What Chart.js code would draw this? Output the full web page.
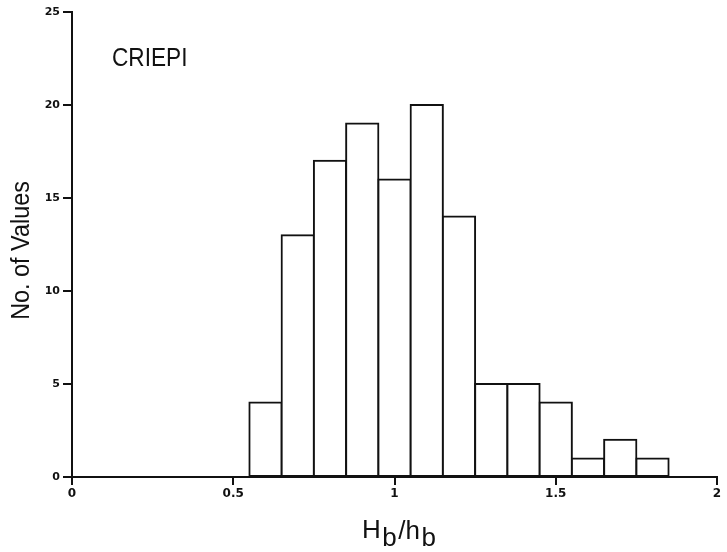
<!DOCTYPE html>
<html>
<head>
<title>CRIEPI Hb/hb histogram</title>
<script src="https://cdn.jsdelivr.net/npm/chart.js"></script>
<style>
  html, body { margin: 0; padding: 0; background: #fff; }
  #wrap { width: 727px; height: 552px; position: relative; }
</style>
</head>
<body>
<div id="wrap"><canvas id="chart"></canvas></div>
<script>
// bin centres (Hb/hb) and number of values in each bin, width 0.1
const binCenters = [0.6, 0.7, 0.8, 0.9, 1.0, 1.1, 1.2, 1.3, 1.4, 1.5, 1.6, 1.7, 1.8];
const counts     = [4, 13, 17, 19, 16, 20, 14, 5, 5, 4, 1, 2, 1];
const xTickLabels = ['0', '0.5', '1', '1.5', '2'];
const yTickLabels = ['0', '5', '10', '15', '20', '25'];

const sans = "'Liberation Sans', Arial, sans-serif";

// draw text squeezed horizontally, to mimic the narrow typeface of the original
function narrowText(ctx, txt, x, y, squeeze) {
  ctx.save();
  ctx.translate(x, y);
  ctx.scale(squeeze, 1);
  ctx.fillText(txt, 0, 0);
  ctx.restore();
  return ctx.measureText(txt).width * squeeze;
}

// titles and the panel label, drawn on the canvas (x title needs subscripts)
const textPlugin = {
  id: 'texts',
  afterDraw(chart) {
    const ctx = chart.ctx;
    const area = chart.chartArea;
    ctx.save();
    ctx.fillStyle = '#111';
    ctx.textBaseline = 'alphabetic';
    ctx.textAlign = 'left';

    // panel label
    ctx.font = '26px ' + sans;
    narrowText(ctx, 'CRIEPI', 112, 66, 0.87);

    // y title
    ctx.save();
    ctx.translate(29, (area.top + area.bottom) / 2 + 6);
    ctx.rotate(-Math.PI / 2);
    ctx.font = '26px ' + sans;
    const yw = ctx.measureText('No. of Values').width * 0.9;
    narrowText(ctx, 'No. of Values', -yw / 2, 0, 0.9);
    ctx.restore();

    // x title: H_b / h_b
    const parts = [['H', 0], ['b', 8], ['/h', 1], ['b', 8]];
    ctx.font = '26px ' + sans;
    let x = 362;
    const base = 538;
    parts.forEach(p => {
      x += narrowText(ctx, p[0], x, base + p[1], 1.0) + 1.5;
    });
    ctx.restore();
  }
};

new Chart(document.getElementById('chart'), {
  type: 'bar',
  data: {
    datasets: [{
      data: binCenters.map((c, i) => ({ x: c, y: counts[i] })),
      backgroundColor: '#ffffff',
      borderColor: '#111111',
      borderWidth: 2,
      borderSkipped: false,
      inflateAmount: 1,
      barPercentage: 1.0,
      categoryPercentage: 1.0
    }]
  },
  options: {
    responsive: true,
    maintainAspectRatio: false,
    animation: false,
    layout: { padding: { top: 12, right: 10, left: 0, bottom: 0 } },
    plugins: {
      legend: { display: false },
      tooltip: { enabled: false }
    },
    scales: {
      x: {
        type: 'linear',
        min: 0,
        max: 2,
        offset: false,
        afterFit(scale) { scale.height = 75; },
        afterBuildTicks(scale) {
          scale.ticks = xTickLabels.map(v => ({ value: parseFloat(v) }));
        },
        grid: {
          offset: false,
          drawOnChartArea: false,
          drawTicks: true,
          tickLength: 8,
          color: '#111',
          lineWidth: 2
        },
        border: { display: true, color: '#111', width: 2 },
        ticks: {
          padding: 2,
          color: '#111',
          maxRotation: 0,
          font: { family: "'DejaVu Sans', sans-serif", size: 12, weight: 'bold' },
          callback(v) { return xTickLabels.find(t => parseFloat(t) === v) ?? ''; }
        }
      },
      y: {
        min: 0,
        max: 25,
        afterFit(scale) { scale.width = 72; },
        afterBuildTicks(scale) {
          scale.ticks = yTickLabels.map(v => ({ value: parseFloat(v) }));
        },
        grid: {
          drawOnChartArea: false,
          drawTicks: true,
          tickLength: 9,
          color: '#111',
          lineWidth: 2
        },
        border: { display: true, color: '#111', width: 2 },
        ticks: {
          padding: 3,
          color: '#111',
          font: { family: "'DejaVu Sans', sans-serif", size: 11, weight: 'bold' },
          callback(v) { return String(v); }
        }
      }
    }
  },
  plugins: [textPlugin]
});
</script>
</body>
</html>
